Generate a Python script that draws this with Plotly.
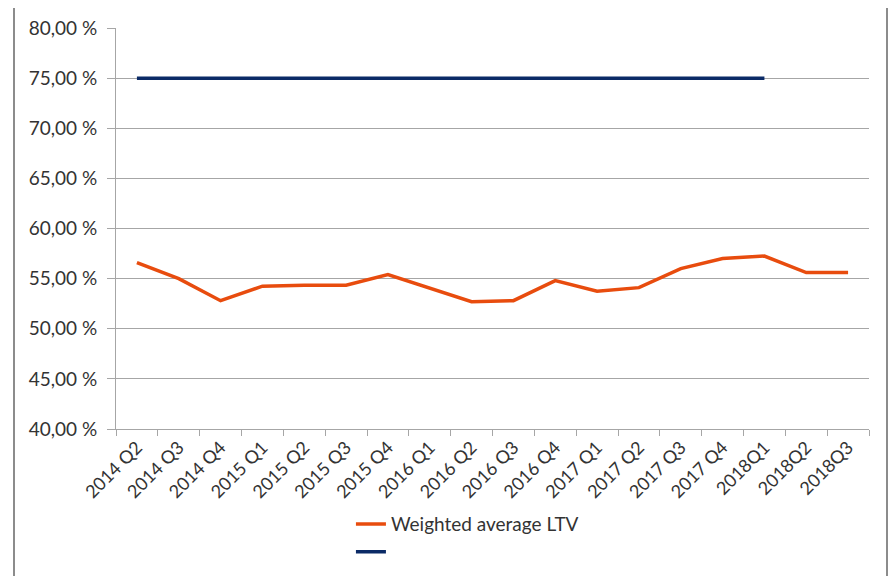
import plotly.graph_objects as go

categories = ["2014 Q2", "2014 Q3", "2014 Q4", "2015 Q1", "2015 Q2", "2015 Q3",
              "2015 Q4", "2016 Q1", "2016 Q2", "2016 Q3", "2016 Q4", "2017 Q1",
              "2017 Q2", "2017 Q3", "2017 Q4", "2018Q1", "2018Q2", "2018Q3"]
ltv = [56.6, 55.0, 52.8, 54.25, 54.35, 54.35, 55.4, 54.05, 52.7, 52.8,
       54.8, 53.75, 54.1, 56.0, 57.0, 57.25, 55.6, 55.6]
limit = [75.0] * 16 + [None, None]
ytick_vals = [40, 45, 50, 55, 60, 65, 70, 75, 80]
ytick_text = ["40,00 %", "45,00 %", "50,00 %", "55,00 %", "60,00 %",
              "65,00 %", "70,00 %", "75,00 %", "80,00 %"]

fig = go.Figure()
fig.add_trace(go.Scatter(x=categories, y=ltv, mode="lines", name="Weighted average LTV",
                         line=dict(color="#E84C0E", width=3.5)))
fig.add_trace(go.Scatter(x=categories, y=limit, mode="lines", name=" ",
                         line=dict(color="#0B2A66", width=3.5)))

fig.update_layout(
    width=896, height=576,
    margin=dict(l=108, r=35, t=20, b=155, autoexpand=False),
    paper_bgcolor="white", plot_bgcolor="white",
    font=dict(family="Lato, Carlito, sans-serif", color="#333333", size=18),
    showlegend=True,
    legend=dict(x=0.312, y=-0.19, xanchor="left", yanchor="top",
                font=dict(size=19, color="#333333"), tracegroupgap=0,
                bgcolor="rgba(0,0,0,0)"),
    xaxis=dict(type="category", tickangle=-45, showgrid=False, automargin=False,
               showline=True, linecolor="#A6A6A6", linewidth=1,
               ticks="outside", tickson="boundaries", ticklen=6, tickcolor="#A6A6A6",
               tickfont=dict(size=18), range=[-0.5, 17.5]),
    yaxis=dict(range=[40, 80], tickvals=ytick_vals, ticktext=ytick_text, automargin=False,
               showgrid=True, gridcolor="#A6A6A6", gridwidth=1,
               showline=True, linecolor="#A6A6A6", linewidth=1,
               ticks="outside", ticklen=8, tickcolor="#A6A6A6",
               ticklabelstandoff=6,
               tickfont=dict(size=19), zeroline=False),
)
fig.add_shape(type="rect", xref="paper", yref="paper",
              x0=(14 - 116) / 753, x1=(887 - 116) / 753,
              y0=-0.6, y1=(429 - 3) / 401,
              line=dict(color="#8C8C8C", width=2), fillcolor="rgba(0,0,0,0)", layer="below")

fig.write_html("out.html")
